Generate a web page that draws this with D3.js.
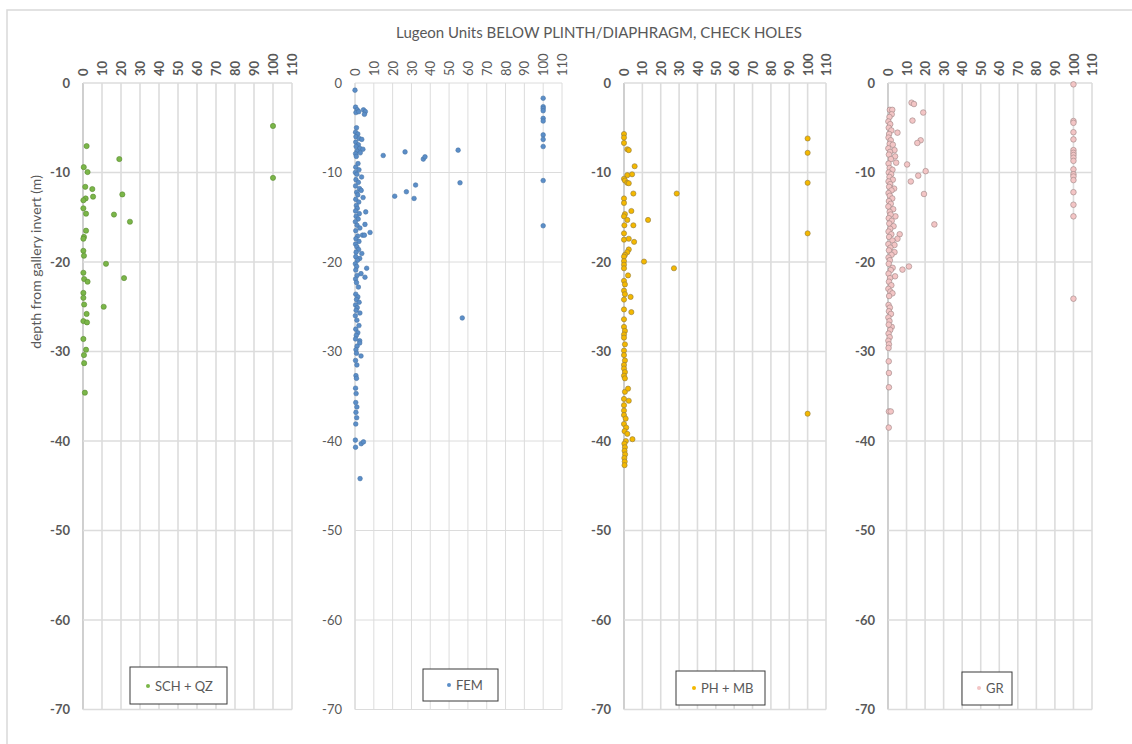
<!DOCTYPE html>
<html>
<head>
<meta charset="utf-8">
<script src="https://cdn.jsdelivr.net/npm/d3@7"></script>
<style>
  body { margin: 0; background: #fff; }
  svg { display: block; }
  text { font-family: Lato, "Open Sans", sans-serif; }
</style>
</head>
<body>
<svg id="chart" width="1132" height="744"></svg>
<script>
// lugeon values vs depth below gallery invert
var chartTitle = 'Lugeon Units BELOW PLINTH/DIAPHRAGM, CHECK HOLES';
var yTitle = 'depth from gallery invert (m)';
var seriesNames = ['SCH + QZ', 'FEM', 'PH + MB', 'GR'];
var xTicks = [0, 10, 20, 30, 40, 50, 60, 70, 80, 90, 100, 110];
var yTicks = [0, -10, -20, -30, -40, -50, -60, -70];

var schQz = [
  [100, -4.8], [1.9, -7.05], [19.1, -8.5], [0.4, -9.4], [2.4, -9.95], [100, -10.6],
  [1.2, -11.6], [4.9, -11.85], [20.7, -12.45], [5.3, -12.7], [1.4, -12.9], [0.2, -13.1],
  [0.2, -14.0], [1.6, -14.6], [16.3, -14.7], [24.7, -15.5], [1.6, -16.5], [0.5, -17.2],
  [0.2, -17.4], [0.2, -18.75], [0.5, -19.3], [12.1, -20.2], [0.2, -21.2], [0.6, -21.9],
  [2.4, -22.2], [21.6, -21.8], [0.2, -23.45], [0.2, -24.0], [0.6, -24.75], [10.9, -25.0],
  [1.9, -25.8], [0.2, -26.6], [2.1, -26.75], [0.2, -28.6], [1.6, -29.8], [0.5, -30.4],
  [0.6, -31.3], [1.0, -34.6]
];

var fem = [
  [0, -0.8], [0.3, -2.7], [1.2, -3.0], [0.5, -3.3], [2, -3.2], [4.5, -3.0], [5.5, -3.2], [5, -3.5],
  [0.8, -5.0], [0.3, -5.5], [1.5, -5.7], [0.5, -6.0], [2.2, -6.2], [3.6, -6.3], [0.4, -6.6],
  [1.8, -6.9], [0.6, -7.1], [2.5, -7.3], [4.2, -7.4], [1.1, -7.6], [0.3, -7.9], [2.8, -7.8], [0.7, -8.2],
  [1.6, -9.0], [0.4, -9.4], [2.1, -9.7], [0.2, -10.0], [1.0, -10.2], [3.5, -10.5], [0.5, -10.8],
  [1.8, -11.1], [0.3, -11.5], [2.4, -11.8], [3.3, -12.0], [0.9, -12.2], [1.5, -12.5], [4.3, -12.8],
  [0.4, -13.0], [2.0, -13.3], [0.7, -13.7], [1.2, -14.0], [0.3, -14.3], [5.7, -14.4], [2.3, -14.6],
  [0.6, -14.9], [1.7, -15.2], [0.2, -15.5], [5.3, -15.8], [1.1, -15.9], [2.6, -16.2], [0.4, -16.5],
  [8, -16.7], [4, -17.0], [5, -17.0], [1.4, -17.1], [0.5, -17.4], [2.1, -17.7], [0.3, -18.0],
  [1.0, -18.3], [1.9, -18.6], [0.6, -18.9], [3.6, -19.05], [2.5, -19.6], [0.4, -19.4], [1.3, -19.8],
  [0.2, -20.2], [0.9, -20.5], [6.2, -20.7], [0.4, -20.9], [3.2, -21.3], [5.3, -21.7], [1.1, -21.5],
  [0.3, -21.9], [0.8, -22.3], [1.8, -22.8],
  [0.4, -23.6], [1.5, -23.9], [0.8, -24.2], [2.2, -24.5], [0.3, -24.8], [1.2, -25.1], [0.6, -25.4],
  [2.6, -25.7], [0.2, -26.0], [2.1, -27.1], [1.0, -26.5], [0.4, -27.5], [1.5, -27.9], [0.7, -28.2],
  [2.5, -28.8], [2.5, -29.05], [0.3, -28.6], [1.1, -29.4], [0.5, -29.8], [3.2, -30.5], [0.8, -30.2],
  [1.0, -31.5], [0.3, -31.0], [0.5, -32.7], [0.8, -33.0], [0.3, -34.1], [0.6, -34.7], [0.4, -35.7],
  [1.0, -36.2], [0.5, -36.8], [0.9, -37.4], [0.4, -38.1],
  [0.2, -39.9], [0.3, -40.7], [3.3, -40.3], [4.5, -40.1], [2.7, -44.2],
  [15, -8.1], [26.6, -7.7], [36.3, -8.5], [37.2, -8.25], [54.8, -7.5], [55.8, -11.15], [32.2, -11.4],
  [27.3, -12.15], [21.1, -12.65], [31.4, -12.9], [57, -26.25],
  [100, -1.7], [100, -2.65], [100, -2.85], [100, -3.1], [100, -3.95], [100, -4.25], [100, -5.8],
  [100, -6.3], [100, -7.1], [100, -10.9], [100, -15.95]
];

var phMb = [
  [0, -5.7], [0, -6.1], [0, -6.7], [1.8, -7.4], [2.6, -7.5], [5.8, -9.3], [4.4, -10.2], [1.8, -10.3],
  [0, -10.7], [0.5, -10.9], [1.8, -11.15], [2.6, -11.2], [5.1, -12.35], [28.7, -12.35], [0, -12.9],
  [0, -13.4], [4, -14.3], [0.5, -14.65], [0, -14.9], [1.8, -15.3], [13.1, -15.3], [5.1, -15.9],
  [0.2, -15.9], [0, -16.8], [0, -17.5], [2.6, -17.4], [5.5, -17.75], [2.6, -18.6], [1.8, -18.9],
  [0.5, -19.2], [0, -19.4], [0, -19.9], [10.9, -19.95], [27.2, -20.7], [0, -20.3], [0, -20.7],
  [2.2, -21.5], [0, -22.1], [0.5, -22.5], [0, -23.2], [0.5, -23.6], [0, -24.2], [3.6, -23.9],
  [0, -25.3], [4, -25.6], [0, -26.4], [0, -27.25], [0.5, -27.7], [0, -28.1], [0, -28.45], [0.5, -29.2],
  [0, -29.9], [0, -30.4], [0.5, -31.0], [0, -31.5], [0, -31.9], [0.5, -32.3], [0, -32.7], [0.5, -33.0],
  [0.5, -34.5], [2.2, -34.15], [0, -35.3], [2.6, -35.5], [0, -36.0], [0, -36.6], [0, -37.1], [0.9, -37.5],
  [0, -38.1], [1.2, -38.5], [0.3, -38.9], [1.8, -39.2], [4.6, -39.8], [1.0, -40.0], [0.2, -40.3],
  [0.5, -40.7], [0.3, -41.1], [0.6, -41.5], [0.2, -41.9], [0.4, -42.3], [0.3, -42.7],
  [100, -6.2], [100, -7.8], [100, -11.15], [100, -16.8], [100, -36.95]
];

var gr = [
  [1.0, -3.0], [2.3, -3.0], [2.0, -3.5], [0.8, -3.8], [0.2, -4.3], [1.2, -4.6], [0.4, -5.0], [1.8, -5.3],
  [0.6, -5.7], [5.1, -5.55], [0.3, -6.1], [1.5, -6.4], [0.9, -6.8], [2.6, -6.9], [0.2, -7.3], [3.5, -7.5],
  [1.1, -7.7], [0.5, -8.0], [3.8, -8.2], [1.6, -8.5], [4.4, -8.9], [0.3, -9.0], [0.9, -9.5], [2.4, -9.7],
  [0.4, -10.0], [1.7, -10.2], [0.8, -10.5], [2.6, -10.8], [0.3, -11.0], [1.2, -11.3], [3.3, -11.8],
  [0.6, -11.6], [1.9, -12.0], [0.3, -12.3], [1.0, -12.6], [2.3, -12.9], [0.5, -13.2], [1.5, -13.5],
  [0.2, -13.8], [2.8, -14.1], [0.9, -14.4], [4.0, -14.9], [1.4, -14.7], [0.4, -15.1], [2.0, -15.4],
  [0.7, -15.7], [3.0, -16.0], [1.2, -16.3], [0.3, -16.6], [1.8, -16.9], [6.3, -16.9], [5.1, -17.4],
  [0.6, -17.2], [2.4, -17.6], [0.2, -18.0], [3.5, -18.1], [1.3, -18.4], [0.5, -18.7], [3.5, -18.9],
  [1.9, -19.2], [0.3, -19.5], [1.0, -19.8], [0.4, -20.2], [2.5, -20.65], [1.5, -20.9], [3.8, -21.6],
  [0.3, -21.3], [1.1, -21.8], [0.5, -22.2], [1.8, -22.6], [0.2, -23.0], [1.3, -23.3], [2.4, -23.5],
  [0.6, -23.8], [0.3, -24.8], [1.0, -25.1], [0.5, -25.5], [1.6, -25.8], [0.2, -26.2], [0.8, -26.6],
  [2.0, -27.25], [0.4, -27.0], [1.2, -27.6], [0.3, -28.0], [0.9, -28.4], [0.2, -28.8], [0.5, -29.2],
  [0.3, -29.6], [0.4, -31.1], [0.5, -32.4], [0.5, -34.0], [0.5, -36.7], [1.5, -36.7], [0.4, -38.5],
  [12.7, -2.2], [14, -2.35], [19, -3.3], [13.2, -4.2], [17.6, -6.4], [15.8, -6.7], [10.3, -9.1],
  [20.3, -9.85], [16.3, -10.35], [12.3, -11.0], [19.4, -12.4], [25, -15.8], [11.3, -20.5], [7.8, -20.85],
  [100, -0.15], [100, -4.25], [100, -4.45], [100, -5.5], [100, -6.3], [100, -7.5], [100, -7.8],
  [100, -8.05], [100, -8.35], [100, -8.7], [100, -9.65], [100, -10.2], [100, -10.45], [100, -10.85],
  [100, -12.2], [100, -13.6], [100, -14.9], [100, -24.1]
];

var svg = d3.select('#chart');

svg.append('rect')
  .attr('x', 7).attr('y', 10)
  .attr('width', 1140).attr('height', 760)
  .attr('fill', '#fff')
  .attr('stroke', '#d9d9d9')
  .attr('stroke-width', 1.5);

svg.append('text')
  .attr('x', 599).attr('y', 38)
  .attr('text-anchor', 'middle')
  .style('font-size', '15px')
  .style('fill', '#595959')
  .text(chartTitle);

svg.append('text')
  .attr('transform', 'translate(41,262) rotate(-90)')
  .attr('text-anchor', 'middle')
  .style('font-size', '14px')
  .style('fill', '#595959')
  .text(yTitle);

var plotTop = 83, plotBottom = 709.5;

var panels = [
  { name: seriesNames[0], data: schQz, left: 83, right: 292, fill: '#7ab648', stroke: '#5b8a33', r: 2.6,
    bold: true, gridW: 1.6, legend: { x: 130, w: 97, top: 667, bottom: 704, mark: 148, my: 686 } },
  { name: seriesNames[1], data: fem, left: 355, right: 562, fill: '#5b8ec8', stroke: '#4a76a6', r: 2.3,
    bold: false, gridW: 1, legend: { x: 423, w: 75, top: 669, bottom: 701, mark: 449, my: 685 } },
  { name: seriesNames[2], data: phMb, left: 624, right: 826, fill: '#f4b800', stroke: '#8f7b45', r: 2.6,
    bold: true, gridW: 1.6, legend: { x: 676, w: 89, top: 671, bottom: 705, mark: 694, my: 688 } },
  { name: seriesNames[3], data: gr, left: 888, right: 1092, fill: '#f3c5c5', stroke: '#9c8585', r: 2.8,
    bold: true, gridW: 1.6, legend: { x: 962, w: 50, top: 672, bottom: 705, mark: 979, my: 688 } }
];

panels.forEach(function (p) {
  var x = d3.scaleLinear().domain([0, 110]).range([p.left, p.right]);
  var y = d3.scaleLinear().domain([0, -70]).range([plotTop, plotBottom]);
  var g = svg.append('g');

  // gridlines
  g.selectAll('line.v').data(xTicks).join('line')
    .attr('class', 'v')
    .attr('x1', function (d) { return x(d); }).attr('x2', function (d) { return x(d); })
    .attr('y1', plotTop).attr('y2', plotBottom)
    .style('stroke', function (d) { return d === 0 ? '#c4c4c4' : '#dcdcdc'; })
    .style('stroke-width', p.gridW);

  g.selectAll('line.h').data(yTicks).join('line')
    .attr('class', 'h')
    .attr('x1', p.left).attr('x2', p.right)
    .attr('y1', function (d) { return y(d); }).attr('y2', function (d) { return y(d); })
    .style('stroke', '#dcdcdc')
    .style('stroke-width', p.gridW);

  // top axis, labels turned on their side
  var xAxis = g.append('g')
    .attr('transform', 'translate(0,' + plotTop + ')')
    .call(d3.axisTop(x).tickValues(xTicks).tickSize(0).tickFormat(function (d) { return String(d); }));
  xAxis.select('.domain').remove();
  xAxis.selectAll('text')
    .attr('x', 0).attr('y', 0).attr('dy', '0.35em')
    .attr('transform', 'translate(0,-7) rotate(-90)')
    .attr('text-anchor', 'start')
    .style('font-size', '13px')
    .style('font-family', 'Lato, sans-serif')
    .style('font-weight', p.bold ? 'bold' : 'normal')
    .style('fill', '#595959');

  var yAxis = g.append('g')
    .attr('transform', 'translate(' + p.left + ',0)')
    .call(d3.axisLeft(y).tickValues(yTicks).tickSize(0).tickPadding(13)
      .tickFormat(function (d) { return String(d); }));
  yAxis.select('.domain').remove();
  yAxis.selectAll('text')
    .style('font-size', '13px')
    .style('font-family', 'Lato, sans-serif')
    .style('font-weight', p.bold ? 'bold' : 'normal')
    .style('fill', '#595959');

  g.selectAll('circle.pt').data(p.data).join('circle')
    .attr('class', 'pt')
    .attr('cx', function (d) { return x(d[0]); })
    .attr('cy', function (d) { return y(d[1]); })
    .attr('r', p.r)
    .style('fill', p.fill)
    .style('stroke', p.stroke)
    .style('stroke-width', 0.6);

  // legend
  var lg = p.legend;
  g.append('rect')
    .attr('x', lg.x).attr('y', lg.top)
    .attr('width', lg.w).attr('height', lg.bottom - lg.top)
    .style('fill', '#fff')
    .style('stroke', '#3a3a3a')
    .style('stroke-width', 1);
  g.append('circle')
    .attr('cx', lg.mark).attr('cy', lg.my).attr('r', 2)
    .style('fill', p.fill);
  g.append('text')
    .attr('x', lg.mark + 7).attr('y', lg.my + 4.5)
    .style('font-size', '13px')
    .style('fill', '#595959')
    .text(p.name);
});
</script>
</body>
</html>
